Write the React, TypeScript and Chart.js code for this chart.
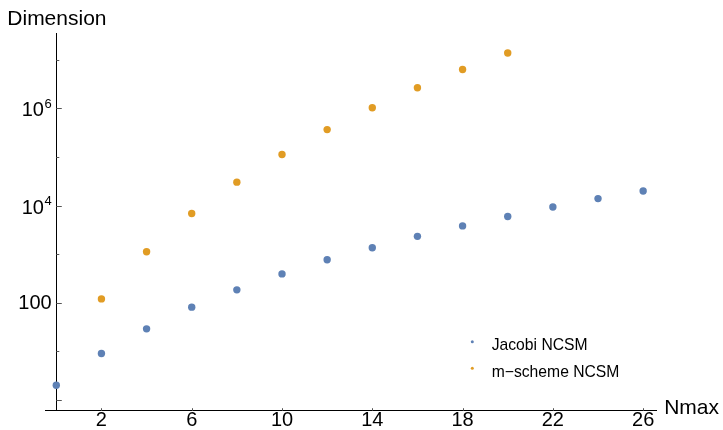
import React, { useEffect, useRef } from "react";
import { Chart, registerables } from "chart.js";

Chart.register(...registerables);

// ---- data ----
const nmaxJacobi = [0, 2, 4, 6, 8, 10, 12, 14, 16, 18, 20, 22, 24, 26];
const jacobiDims = [2, 9, 29, 81, 184, 392, 767, 1350, 2320, 3810, 5950, 9350, 13900, 19900];
const nmaxMScheme = [2, 4, 6, 8, 10, 12, 14, 16, 18, 20];
const mschemeDims = [120, 1120, 6850, 30300, 112000, 365000, 1030000, 2650000, 6300000, 13800000];
const xTickValues = [2, 6, 10, 14, 18, 22, 26];
const yTickDecades = [0, 1, 2, 3, 4, 5, 6, 7];
const yLabelDecades = [2, 4, 6];
const seriesNames = ["Jacobi NCSM", "m\u2212scheme NCSM"];
const seriesColors = ["#5E81B5", "#E19C24"];
const xAxisTitle = "Nmax";
const yAxisTitle = "Dimension";

const FONT = '"Liberation Sans", Arial, Helvetica, sans-serif';

export default function App() {
  const ref = useRef<HTMLCanvasElement>(null);

  useEffect(() => {
    const canvas = ref.current;
    if (!canvas) return;

    const overlay = {
      id: "overlay",
      afterDraw(chart: any) {
        const c = chart.ctx as CanvasRenderingContext2D;
        const xs = chart.scales.x;
        const ys = chart.scales.y;
        const area = chart.chartArea;
        const x0 = xs.getPixelForValue(0);
        c.save();
        // y ticks (inward)
        c.strokeStyle = "#555";
        c.lineWidth = 1;
        yTickDecades.forEach((k) => {
          const y = Math.round(ys.getPixelForValue(Math.pow(10, k))) + 0.5;
          const len = k % 2 === 0 ? 5.5 : 3;
          c.beginPath();
          c.moveTo(x0, y);
          c.lineTo(x0 + len, y);
          c.stroke();
        });
        // x ticks (inward)
        xTickValues.forEach((v) => {
          const x = Math.round(xs.getPixelForValue(v)) + 0.5;
          c.beginPath();
          c.moveTo(x, area.bottom);
          c.lineTo(x, area.bottom - 2.5);
          c.stroke();
        });
        // y labels
        c.fillStyle = "#000";
        const rightEdge = x0 - 4.6;
        yLabelDecades.forEach((k) => {
          const y = ys.getPixelForValue(Math.pow(10, k));
          c.textAlign = "right";
          c.textBaseline = "alphabetic";
          if (k === 2) {
            c.font = `20px ${FONT}`;
            c.fillText("100", rightEdge, y + 6.2);
          } else {
            c.font = `13px ${FONT}`;
            const exp = String(k);
            const ew = c.measureText(exp).width;
            c.fillText(exp, rightEdge, y - 0.1);
            c.font = `20px ${FONT}`;
            c.fillText("10", rightEdge - ew - 0.5, y + 8);
          }
        });
        // axis titles
        c.textAlign = "left";
        c.font = `21px ${FONT}`;
        c.fillText(yAxisTitle, 7.3, 25);
        c.fillText(xAxisTitle, area.right + 7.5, 414.3);
        // legend
        c.font = `15.7px ${FONT}`;
        seriesNames.forEach((name, i) => {
          const ly = 341.7 + i * 26.6;
          c.fillStyle = seriesColors[i];
          c.beginPath();
          c.arc(472.3, ly, 1.5, 0, Math.PI * 2);
          c.fill();
          c.fillStyle = "#000";
          c.fillText(name, 491.7, ly + 8.3);
        });
        c.restore();
      },
    };

    const chart = new Chart(canvas, {
      type: "scatter",
      data: {
        datasets: [
          {
            label: seriesNames[0],
            data: nmaxJacobi.map((x, i) => ({ x, y: jacobiDims[i] })),
            backgroundColor: seriesColors[0],
            pointBackgroundColor: seriesColors[0],
            pointBorderWidth: 0,
            borderWidth: 0,
            pointRadius: 3.7,
            showLine: false,
          },
          {
            label: seriesNames[1],
            data: nmaxMScheme.map((x, i) => ({ x, y: mschemeDims[i] })),
            backgroundColor: seriesColors[1],
            pointBackgroundColor: seriesColors[1],
            pointBorderWidth: 0,
            borderWidth: 0,
            pointRadius: 3.7,
            showLine: false,
          },
        ],
      },
      options: {
        animation: false,
        responsive: false,
        devicePixelRatio: 1,
        layout: { padding: { left: 45, right: 66.3, top: 33.3, bottom: 0 } },
        plugins: { legend: { display: false }, tooltip: { enabled: false } },
        scales: {
          x: {
            type: "linear",
            position: "bottom",
            min: -0.5,
            max: 26.6,
            grid: { display: false, drawTicks: false },
            border: { display: true, color: "#000", width: 1 },
            afterBuildTicks: (scale: any) => {
              scale.ticks = xTickValues.map((v) => ({ value: v }));
            },
            afterFit: (scale: any) => {
              scale.height = 19.3;
            },
            ticks: {
              autoSkip: false,
              maxRotation: 0,
              padding: -2,
              color: "#000",
              font: { family: FONT, size: 20 },
              callback: (v: any) => String(v),
            },
          },
          y: {
            type: "logarithmic",
            position: { x: 0 } as any,
            min: 0.647,
            max: 3.5e7,
            grid: { display: false, drawTicks: false },
            border: { display: true, color: "#000", width: 1 },
            ticks: { display: false },
          },
        },
      },
      plugins: [overlay],
    });

    return () => chart.destroy();
  }, []);

  return (
    <div style={{ position: "absolute", left: 0, top: 0, width: 723, height: 430, background: "#fff" }}>
      <canvas ref={ref} width={723} height={430} style={{ display: "block" }} />
    </div>
  );
}
